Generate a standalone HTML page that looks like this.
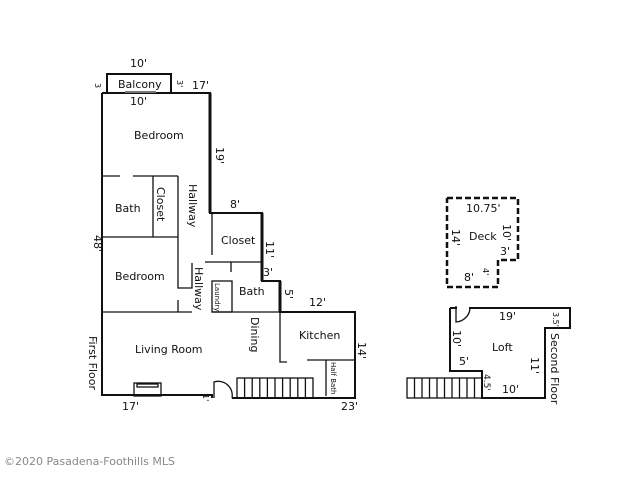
<!DOCTYPE html>
<html><head><meta charset="utf-8"><style>
html,body{margin:0;padding:0;background:#fff;width:640px;height:480px;overflow:hidden}
svg text{font-family:"DejaVu Sans","Liberation Sans",sans-serif;fill:#111}
</style></head><body>
<svg width="640" height="480" viewBox="0 0 640 480" xmlns="http://www.w3.org/2000/svg">
<g fill="none" stroke="#111" stroke-width="2">
<rect x="107" y="74" width="64" height="19"/>
<polyline points="102,93 210,93 210,213 262,213 262,281 280,281 280,312 355,312 355,398 232,398"/>
<polyline points="212,398 212,395 102,395 102,93"/>
<line x1="210" y1="93" x2="210" y2="213" stroke-width="3"/>
<line x1="262" y1="213" x2="262" y2="281" stroke-width="3"/>
<line x1="280" y1="281" x2="280" y2="312" stroke-width="3"/>
</g>
<g fill="none" stroke="#111" stroke-width="1.3">
<line x1="125" y1="92" x2="156" y2="92" stroke="#777" stroke-width="2"/>
<line x1="102" y1="176" x2="120" y2="176"/>
<line x1="133" y1="176" x2="178" y2="176"/>
<line x1="153" y1="176" x2="153" y2="237"/>
<line x1="102" y1="237" x2="178" y2="237"/>
<polyline points="178,176 178,288 192,288 192,263"/>
<line x1="102" y1="312" x2="192" y2="312"/>
<line x1="178" y1="300" x2="178" y2="312"/>
<line x1="212" y1="213" x2="212" y2="255"/>
<line x1="205" y1="262" x2="262" y2="262"/>
<line x1="231" y1="262" x2="231" y2="272"/>
<rect x="212" y="281" width="20" height="31"/>
<line x1="212" y1="312" x2="355" y2="312"/>
<polyline points="280,312 280,362 287,362"/>
<line x1="307" y1="360" x2="355" y2="360"/>
<line x1="326" y1="360" x2="326" y2="396"/>
<rect x="237" y="378" width="76" height="20"/>
<path d="M244.6 378v20M252.2 378v20M259.8 378v20M267.4 378v20M275 378v20M282.6 378v20M290.2 378v20M297.8 378v20M305.4 378v20"/>
<path d="M214 398 V382 A14 14 0 0 1 232 398"/>
<rect x="134" y="383" width="27" height="13"/>
<rect x="137" y="384" width="21" height="3"/>
</g>
<polyline points="447,198 518,198 518,260 498,260 498,287 447,287 447,198" fill="none" stroke="#111" stroke-width="2.5" stroke-dasharray="6,3"/>
<g fill="none" stroke="#111" stroke-width="2">
<polyline points="450,308 570,308 570,328 545,328 545,398 482,398 482,371 450,371 450,308"/>
</g>
<g fill="none" stroke="#111" stroke-width="1.3">
<line x1="457" y1="308" x2="469" y2="308" stroke="#fff" stroke-width="3"/>
<path d="M456 306 V322 A15 15 0 0 0 470 309"/>
<rect x="407" y="378" width="75" height="20"/>
<path d="M414.5 378v20M422 378v20M429.5 378v20M437 378v20M444.5 378v20M452 378v20M459.5 378v20M467 378v20M474.5 378v20"/>
</g>
<g font-size="11">
<text x="130" y="67">10'</text>
<text x="118" y="88">Balcony</text>
<text x="130" y="105">10'</text>
<text x="192" y="89">17'</text>
<text x="134" y="139">Bedroom</text>
<text x="115" y="212">Bath</text>
<text x="115" y="280">Bedroom</text>
<text x="230" y="208">8'</text>
<text x="221" y="244">Closet</text>
<text x="239" y="295">Bath</text>
<text x="309" y="306">12'</text>
<text x="299" y="339">Kitchen</text>
<text x="135" y="353">Living Room</text>
<text x="122" y="410">17'</text>
<text x="341" y="410">23'</text>
<text x="263" y="276">3'</text>
<text x="466" y="212">10.75'</text>
<text x="469" y="240">Deck</text>
<text x="500" y="255">3'</text>
<text x="464" y="281">8'</text>
<text x="499" y="320">19'</text>
<text x="492" y="351">Loft</text>
<text x="459" y="365">5'</text>
<text x="502" y="393">10'</text>
</g>
<g font-size="11">
<text transform="translate(216,147) rotate(90)">19'</text>
<text transform="translate(189,184) rotate(90)">Hallway</text>
<text transform="translate(157,187) rotate(90)">Closet</text>
<text transform="translate(195,267) rotate(90)">Hallway</text>
<text transform="translate(266,241) rotate(90)">11'</text>
<text transform="translate(285,289) rotate(90)">5'</text>
<text transform="translate(251,317) rotate(90)">Dining</text>
<text transform="translate(358,342) rotate(90)">14'</text>
<text transform="translate(94,235) rotate(90)">48'</text>
<text transform="translate(89,336) rotate(90)">First Floor</text>
<text transform="translate(95,83) rotate(90)" font-size="8">3</text>
<text transform="translate(177,80) rotate(90)" font-size="8">3'</text>
<text transform="translate(203,394) rotate(90)" font-size="8">1'</text>
<text transform="translate(503,224) rotate(90)">10'</text>
<text transform="translate(452,229) rotate(90)">14'</text>
<text transform="translate(483,268) rotate(90)" font-size="8">4'</text>
<text transform="translate(453,330) rotate(90)">10'</text>
<text transform="translate(531,357) rotate(90)">11'</text>
<text transform="translate(484,374) rotate(90)" font-size="9">4.5'</text>
<text transform="translate(553,312) rotate(90)" font-size="8">3.5'</text>
<text transform="translate(551,333) rotate(90)">Second Floor</text>
<text transform="translate(331,362) rotate(90)" font-size="7">Half Bath</text>
<text transform="translate(215,283) rotate(90)" font-size="7">Laundry</text>
</g>
<text x="4" y="465" font-size="11" style="fill:#888">©2020 Pasadena-Foothills MLS</text>
</svg>
</body></html>
